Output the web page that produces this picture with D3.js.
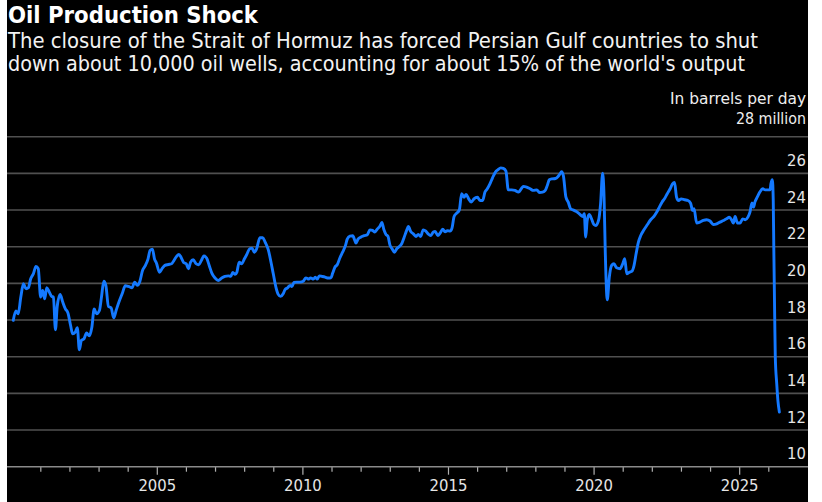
<!DOCTYPE html>
<html>
<head>
<meta charset="utf-8">
<script src="https://cdn.jsdelivr.net/npm/d3@7"></script>
<style>
  html, body { margin: 0; padding: 0; background: #fff; }
  svg { display: block; }
  text { font-family: "DejaVu Sans Condensed", "DejaVu Sans", sans-serif; font-stretch: condensed; }
</style>
</head>
<body>
<svg id="chart" width="822" height="502"></svg>
<script>
// ---- Data ----
const title = "Oil Production Shock";
const subtitleLines = [
  "The closure of the Strait of Hormuz has forced Persian Gulf countries to shut",
  "down about 10,000 oil wells, accounting for about 15% of the world's output"
];
const unitLines = ["In barrels per day", "28 million"];

// decimal year of each observation
const years = [
  2000.07,2000.16,2000.24,2000.33,2000.42,2000.51,2000.59,2000.67,2000.76,2000.85,2000.93,
  2001.01,2001.08,2001.15,2001.22,2001.31,2001.39,2001.45,2001.52,2001.58,2001.68,2001.77,2001.86,2001.95,
  2002.04,2002.11,2002.20,2002.27,2002.34,2002.41,2002.50,2002.59,2002.68,2002.77,2002.85,2002.93,
  2003.03,2003.10,2003.18,2003.25,2003.34,2003.43,2003.52,2003.61,2003.70,2003.81,2003.92,
  2004.03,2004.15,2004.24,2004.33,2004.42,2004.51,2004.61,2004.70,2004.77,2004.85,2004.92,2004.99,
  2005.09,2005.18,2005.28,2005.40,2005.51,2005.59,2005.68,2005.76,2005.84,2005.92,
  2006.01,2006.09,2006.16,2006.25,2006.35,2006.44,2006.53,2006.62,2006.71,2006.80,2006.89,
  2007.00,2007.11,2007.23,2007.34,2007.46,2007.54,2007.61,2007.69,2007.75,2007.83,2007.91,
  2008.01,2008.10,2008.19,2008.27,2008.35,2008.43,2008.54,2008.64,2008.72,2008.83,2008.91,
  2009.00,2009.09,2009.17,2009.25,2009.34,2009.40,2009.49,2009.58,2009.64,2009.71,2009.80,2009.92,
  2010.03,2010.12,2010.22,2010.28,2010.38,2010.44,2010.51,2010.58,2010.67,2010.78,2010.89,2010.98,
  2011.04,2011.12,2011.20,2011.29,2011.38,2011.48,2011.54,2011.63,2011.73,2011.80,2011.84,2011.91,
  2012.00,2012.12,2012.23,2012.32,2012.41,2012.49,2012.57,2012.67,2012.73,2012.80,2012.87,2012.94,
  2013.01,2013.08,2013.16,2013.24,2013.33,2013.41,2013.49,2013.58,2013.64,2013.72,2013.81,2013.90,2013.98,
  2014.06,2014.15,2014.24,2014.32,2014.40,2014.50,2014.56,2014.65,2014.73,2014.82,2014.90,2014.98,
  2015.07,2015.14,2015.21,2015.30,2015.39,2015.47,2015.55,2015.62,2015.71,2015.80,2015.89,
  2016.01,2016.10,2016.19,2016.27,2016.35,2016.44,2016.53,2016.63,2016.72,2016.81,2016.90,2016.99,
  2017.07,2017.19,2017.30,2017.42,2017.59,2017.70,2017.82,2017.93,
  2018.05,2018.14,2018.25,2018.34,2018.41,2018.48,2018.57,2018.69,2018.78,2018.85,2018.90,2018.96,
  2019.05,2019.13,2019.21,2019.33,2019.44,2019.53,2019.63,2019.68,2019.73,2019.78,2019.85,2019.93,
  2020.01,2020.08,2020.17,2020.24,2020.31,2020.36,2020.40,2020.47,2020.54,2020.62,2020.70,2020.79,2020.91,
  2021.00,2021.07,2021.14,2021.23,2021.32,2021.39,2021.46,2021.54,2021.62,2021.73,2021.85,2021.96,
  2022.08,2022.17,2022.26,2022.35,2022.44,2022.53,2022.63,2022.71,2022.78,2022.85,2022.92,
  2023.01,2023.13,2023.24,2023.33,2023.40,2023.45,2023.54,2023.65,2023.77,2023.88,
  2024.00,2024.11,2024.23,2024.34,2024.46,2024.57,2024.66,2024.75,2024.80,2024.86,2024.94,
  2025.03,2025.12,2025.21,2025.30,2025.37,2025.44,2025.49,2025.54,2025.62,2025.71,2025.81,2025.89,2025.99,
  2026.06,2026.09,2026.14,2026.17,2026.19,2026.22,2026.24,2026.29,2026.33,2026.38
];
// million barrels per day
const values = [
  17.98,18.49,18.34,19.25,19.98,19.70,19.76,20.25,20.52,20.92,20.80,
  19.25,19.61,19.16,19.76,19.52,19.29,19.25,17.47,18.74,19.40,18.98,18.61,18.38,
  17.70,17.25,17.34,17.58,16.38,16.89,16.98,17.29,17.14,17.61,18.61,18.34,
  18.52,19.25,20.12,19.89,18.74,18.67,18.12,18.56,18.98,19.43,19.87,
  19.83,19.76,20.07,19.89,20.12,20.70,20.98,21.34,21.80,21.87,21.34,21.10,
  20.61,20.80,20.98,21.03,21.07,21.25,21.47,21.58,21.40,21.14,
  21.07,20.80,21.16,21.29,21.07,21.01,21.25,21.49,21.38,20.98,20.56,
  20.29,20.16,20.29,20.38,20.41,20.38,20.60,20.49,20.61,21.16,21.07,
  21.34,21.61,21.89,21.92,21.70,21.89,22.49,22.49,22.25,21.83,21.25,
  20.52,19.80,19.40,19.29,19.43,19.65,19.76,19.89,19.83,20.05,20.07,20.07,
  20.12,20.30,20.23,20.30,20.23,20.34,20.23,20.41,20.38,20.34,20.29,20.30,
  20.56,20.89,21.03,21.40,21.70,22.07,22.41,22.58,22.60,22.34,22.20,22.41,
  22.52,22.60,22.65,22.92,22.89,22.80,22.96,23.14,23.32,22.92,22.67,22.56,
  22.07,21.89,21.70,21.89,22.01,22.16,22.49,22.89,23.10,22.83,22.70,22.56,22.67,
  22.56,22.92,22.85,22.70,22.61,22.80,22.83,22.61,22.74,22.96,22.81,22.87,
  22.85,23.03,23.65,23.83,24.01,24.89,24.70,24.85,24.61,24.43,24.61,
  24.70,24.52,24.52,24.98,25.16,25.43,25.76,26.07,26.20,26.30,26.27,26.12,
  25.10,25.10,25.07,24.98,25.29,25.25,25.16,25.07,
  25.10,24.96,24.98,25.07,25.34,25.65,25.70,25.72,25.83,25.98,26.09,25.89,
  24.70,24.43,24.07,23.98,23.89,23.76,23.65,23.80,22.52,23.43,23.76,23.52,
  23.21,23.16,23.43,24.34,26.01,24.70,21.80,19.10,20.34,20.98,21.07,20.85,20.80,
  21.07,21.34,20.52,20.61,20.67,20.98,21.61,22.25,22.61,22.92,23.21,23.47,
  23.67,23.89,24.16,24.43,24.63,24.89,25.16,25.43,25.50,24.70,24.52,
  24.61,24.56,24.52,24.38,23.98,24.07,23.29,23.34,23.43,23.47,
  23.40,23.21,23.25,23.34,23.43,23.52,23.61,23.43,23.29,23.65,23.29,
  23.29,23.52,23.47,23.61,23.89,24.38,24.16,24.43,24.70,24.98,25.16,25.10,25.10,
  25.10,25.43,25.65,24.52,21.80,18.16,15.98,14.52,13.61,12.98
];

const yTickValues = [10, 12, 14, 16, 18, 20, 22, 24, 26];
const gridValues = [12, 14, 16, 18, 20, 22, 24, 26, 28];
const xTickValues = d3.range(2001, 2027);
const xLabelYears = [2005, 2010, 2015, 2020, 2025];

// ---- Drawing ----
const svg = d3.select("#chart");
const W = 822, H = 502;
const panelLeft = 7, panelRight = 808;

svg.append("rect").attr("width", W).attr("height", H).attr("fill", "#ffffff");
svg.append("rect").attr("x", panelLeft).attr("y", 0)
  .attr("width", panelRight - panelLeft).attr("height", H).attr("fill", "#000000");

const x = d3.scaleLinear().domain([2000, 2026]).range([11.2, 768.3]);
const y = d3.scaleLinear().domain([10, 28]).range([466.7, 136.7]);

// Title & subtitle
svg.append("text").attr("x", 8).attr("y", 22.5)
  .attr("fill", "#ffffff").attr("font-size", 23).attr("font-weight", "bold")
  .attr("textLength", 250).attr("lengthAdjust", "spacingAndGlyphs")
  .text(title);

const subLens = [750, 737];
subtitleLines.forEach((s, i) => {
  svg.append("text").attr("x", 8).attr("y", 47.5 + i * 23.5)
    .attr("fill", "#f2f2f2").attr("font-size", 21)
    .attr("textLength", subLens[i]).attr("lengthAdjust", "spacingAndGlyphs")
    .text(s);
});

const unitLens = [136, 70];
unitLines.forEach((s, i) => {
  svg.append("text").attr("x", 806).attr("y", 104 + i * 20)
    .attr("text-anchor", "end")
    .attr("fill", "#eeeeee").attr("font-size", 16)
    .attr("textLength", unitLens[i]).attr("lengthAdjust", "spacingAndGlyphs")
    .text(s);
});

// Gridlines
svg.append("g").selectAll("line").data(gridValues).join("line")
  .attr("x1", panelLeft).attr("x2", panelRight)
  .attr("y1", d => y(d)).attr("y2", d => y(d))
  .attr("stroke", "#505050").attr("stroke-width", 1.6);

// Y labels (right side, above each gridline)
svg.append("g").selectAll("text").data(yTickValues).join("text")
  .attr("x", 806).attr("y", d => y(d) - 7.5)
  .attr("text-anchor", "end").attr("fill", "#e6e6e6").attr("font-size", 16.5)
  .text(d => d);

// X axis
const xAxis = d3.axisBottom(x)
  .tickValues(xTickValues)
  .tickSize(5)
  .tickSizeOuter(0)
  .tickFormat(d => xLabelYears.includes(d) ? String(d) : "");

const gx = svg.append("g").attr("transform", `translate(0,${y(10)})`).call(xAxis);
gx.select(".domain").remove();
gx.selectAll(".tick line")
  .attr("stroke", "#b0b0b0").attr("stroke-width", 1.2)
  .attr("y2", d => xLabelYears.includes(d) ? 8 : 5);
gx.selectAll(".tick text")
  .attr("y", 24.8).attr("dy", 0)
  .attr("fill", "#e6e6e6").attr("font-size", 16.5)
  .style("font-family", '"DejaVu Sans Condensed", "DejaVu Sans", sans-serif');

svg.append("line")
  .attr("x1", panelLeft).attr("x2", panelRight)
  .attr("y1", y(10)).attr("y2", y(10))
  .attr("stroke", "#8a8a8a").attr("stroke-width", 1.6);

// Series line
const pts = years.map((yr, i) => [yr, values[i]]);
const line = d3.line()
  .x(d => x(d[0]))
  .y(d => y(d[1]))
  .curve(d3.curveMonotoneX);

svg.append("path").datum(pts)
  .attr("d", line)
  .attr("fill", "none")
  .attr("stroke", "#1479ff")
  .attr("stroke-width", 2.9)
  .attr("stroke-linejoin", "round")
  .attr("stroke-linecap", "round");
</script>
</body>
</html>
